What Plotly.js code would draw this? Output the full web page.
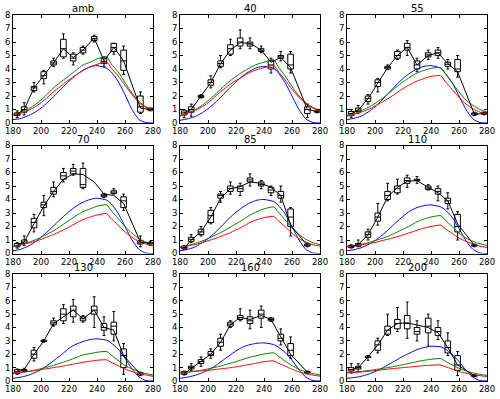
<!DOCTYPE html>
<html>
<head>
<meta charset="utf-8">
<script src="https://cdn.plot.ly/plotly-3.0.1.min.js"></script>
<style>
  body { margin: 0; background: #fff; }
  #chart { width: 500px; height: 399px; }
</style>
</head>
<body>
<div id="chart"></div>
<script>
// panel names
let panels = ['amb', '40', '55', '70', '85', '110', '130', '160', '200'];

// box positions (days) and grid for the model curves
let boxX = [183, 188, 195, 202, 209, 216, 223, 230, 238, 245, 252, 259, 271, 278];
let curveX = [180, 185, 190, 195, 200, 205, 210, 215, 220, 225, 230, 235, 240, 247, 250, 255, 260, 265, 270, 275, 280];

// box stats per panel: lo, q1, med, q3, hi (null = no box) + black line
let medAmb = [0.65, 1.0, 2.6, 3.5, 4.45, 5.5, 4.8, 5.4, 6.25, 4.55, 5.6, 4.6, 1.2, 1.0];
let q1Amb = [0.55, 0.8, 2.4, 3.3, 4.3, 4.9, 4.6, 5.2, 6.1, 4.4, 5.3, 3.9, 0.8, 0.95];
let q3Amb = [0.75, 1.2, 2.7, 3.8, 4.6, 6.2, 5.1, 5.6, 6.4, 4.8, 5.9, 5.4, 2.0, 1.1];
let loAmb = [0.4, 0.6, 2.3, 2.9, 4.2, 4.8, 4.3, 5.1, 6.0, 4.2, 5.1, 3.6, 0.7, 0.9];
let hiAmb = [0.9, 1.5, 3.0, 3.9, 4.8, 6.6, 5.2, 5.7, 6.5, 4.9, 5.9, 5.7, 2.3, 1.1];
let lineAmb = [0.65, 1.0, 2.6, 3.5, 4.45, 5.5, 4.85, 5.4, 6.3, 4.6, 5.6, 4.6, 1.1, 1.0];

let med40 = [0.75, 1.0, 2.0, 3.0, 4.4, 5.5, 6.0, 5.85, 5.4, 4.3, 4.9, 4.3, 1.0, 0.85];
let q140 = [0.6, 0.8, 1.9, 2.8, 4.2, 5.1, 5.7, 5.7, 5.3, 4.0, 4.8, 4.0, 0.7, 0.8];
let q340 = [0.9, 1.2, 2.05, 3.2, 4.6, 5.8, 6.3, 6.0, 5.5, 4.6, 5.0, 5.1, 1.2, 0.9];
let lo40 = [0.4, 0.5, 1.85, 2.6, 4.1, 5.0, 5.5, 5.5, 5.2, 3.7, 4.6, 3.7, 0.4, 0.75];
let hi40 = [1.0, 1.4, 2.1, 3.5, 5.0, 6.2, 6.9, 6.3, 5.7, 4.8, 5.3, 5.3, 1.4, 0.95];
let line40 = [0.75, 1.0, 2.0, 3.0, 4.4, 5.4, 5.95, 5.9, 5.4, 4.5, 4.85, 4.1, 1.0, 0.85];

let med55 = [0.7, 0.95, 1.8, 3.0, 4.1, 5.0, 5.6, 4.3, 5.05, 5.2, 4.35, 4.0, 0.65, 0.7];
let q155 = [0.55, 0.85, 1.6, 2.7, 4.0, 4.8, 5.4, 4.0, 4.9, 5.0, 4.2, 3.8, 0.6, 0.65];
let q355 = [0.85, 1.1, 2.0, 3.2, 4.2, 5.3, 5.9, 4.6, 5.2, 5.4, 4.5, 4.7, 0.75, 0.8];
let lo55 = [0.4, 0.7, 1.4, 2.3, 3.95, 4.7, 5.0, 3.8, 4.7, 4.8, 4.0, 3.4, 0.55, 0.6];
let hi55 = [1.0, 1.3, 2.1, 3.3, 4.3, 5.4, 6.1, 4.8, 5.4, 5.6, 4.7, 5.0, 0.8, 0.8];
let line55 = [0.7, 0.95, 1.8, 3.0, 4.1, 5.0, 5.6, 4.3, 5.0, 5.2, 4.4, 3.8, 0.65, 0.7];

let med70 = [0.6, 0.85, 2.3, 3.6, 4.6, 5.75, 6.1, 5.1, null, 4.3, 4.55, 3.9, 0.8, 0.75];
let q170 = [0.5, 0.75, 1.9, 3.4, 4.4, 5.5, 5.9, 4.9, null, 4.2, 4.45, 3.4, 0.7, 0.7];
let q370 = [0.75, 1.0, 2.6, 3.8, 4.9, 6.0, 6.3, 6.3, null, 4.4, 4.65, 4.2, 0.95, 0.8];
let lo70 = [0.4, 0.6, 1.6, 2.8, 4.2, 5.3, 5.8, 4.8, null, 4.15, 4.4, 3.2, 0.5, 0.6];
let hi70 = [0.8, 1.3, 2.9, 4.3, 5.3, 6.3, 6.6, 6.7, null, 4.45, 4.8, 4.4, 1.3, 0.9];
let line70 = [0.6, 0.85, 2.2, 3.5, 4.6, 5.5, 5.9, 5.85, 5.3, 4.4, 4.3, 3.7, 0.85, 0.75];

let med85 = [0.45, 1.05, 1.6, 2.8, 4.3, 4.8, 4.8, 5.45, 5.1, 4.7, 4.3, 2.7, 0.6, null];
let q185 = [0.35, 0.9, 1.4, 2.3, 4.1, 4.6, 4.6, 5.3, 5.0, 4.5, 4.1, 2.0, 0.55, null];
let q385 = [0.55, 1.2, 1.8, 3.2, 4.4, 5.0, 5.0, 5.6, 5.3, 4.9, 4.6, 3.3, 0.7, null];
let lo85 = [0.3, 0.8, 1.3, 2.2, 3.8, 4.4, 4.3, 5.0, 4.8, 4.3, 3.8, 1.3, 0.5, null];
let hi85 = [0.6, 1.4, 2.0, 3.4, 4.6, 5.3, 5.2, 5.9, 5.4, 5.0, 5.0, 3.4, 0.75, null];
let line85 = [0.4, 1.0, 1.6, 2.7, 4.1, 4.8, 4.95, 5.3, 5.2, 4.9, 4.3, 2.1, 0.6, null];

let med110 = [0.5, 0.65, 1.4, 2.7, 4.3, 4.8, 5.4, 5.45, 4.85, 4.6, 3.9, 2.0, 0.6, null];
let q1110 = [0.45, 0.55, 1.2, 2.4, 4.0, 4.5, 5.2, 5.4, 4.75, 4.4, 3.7, 1.6, 0.55, null];
let q3110 = [0.6, 0.75, 1.6, 3.0, 4.6, 5.0, 5.6, 5.5, 5.0, 4.8, 4.1, 2.9, 0.65, null];
let lo110 = [0.4, 0.5, 1.0, 2.1, 3.9, 4.4, 4.9, 5.2, 4.7, 3.9, 3.3, 1.0, 0.5, null];
let hi110 = [0.65, 1.0, 1.8, 3.7, 5.2, 5.5, 5.8, 5.7, 5.1, 5.0, 4.5, 3.1, 0.7, null];
let line110 = [0.5, 0.65, 1.4, 2.7, 4.2, 4.9, 5.35, 5.4, 4.9, 4.5, 3.9, 2.2, 0.6, null];

let med130 = [0.7, 0.8, 2.0, 3.0, 4.35, 5.0, 5.3, 4.65, 5.3, 4.0, 4.1, 1.9, 0.55, null];
let q1130 = [0.55, 0.75, 1.7, 2.95, 4.2, 4.5, 4.8, 4.5, 5.0, 3.8, 3.5, 1.0, 0.45, null];
let q3130 = [0.85, 0.85, 2.3, 3.05, 4.5, 5.4, 5.6, 4.8, 5.6, 4.3, 4.4, 2.4, 0.6, null];
let lo130 = [0.5, 0.7, 1.5, 2.9, 4.1, 4.3, 4.4, 4.4, 4.0, 3.4, 3.0, 0.5, 0.4, null];
let hi130 = [0.9, 0.95, 2.5, 3.1, 4.7, 5.7, 6.1, 4.9, 6.3, 4.8, 5.2, 2.8, 0.65, null];
let line130 = [0.8, 0.85, 2.0, 3.0, 4.3, 4.8, 5.3, 4.65, 5.3, 4.0, 3.8, 1.9, 0.5, null];

let med160 = [0.6, 1.0, 1.45, 2.0, 2.9, 4.25, 4.75, 4.5, 5.0, 4.6, 3.2, 2.3, 0.65, null];
let q1160 = [0.5, 0.9, 1.3, 1.9, 2.6, 4.1, 4.6, 4.3, 4.7, 4.5, 3.0, 1.9, 0.6, null];
let q3160 = [0.7, 1.1, 1.6, 2.2, 3.2, 4.4, 4.9, 4.8, 5.3, 4.7, 3.5, 2.8, 0.7, null];
let lo160 = [0.45, 0.8, 1.1, 1.7, 2.3, 4.0, 4.5, 3.9, 4.0, 4.45, 2.7, 1.7, 0.55, null];
let hi160 = [0.75, 1.3, 1.8, 2.4, 3.5, 4.5, 5.4, 5.3, 5.6, 4.75, 3.9, 3.3, 0.75, null];
let line160 = [0.55, 0.95, 1.45, 2.0, 2.9, 4.2, 4.75, 4.6, 4.9, 4.6, 3.3, 2.0, 0.65, null];

let med200 = [0.85, 1.0, 1.8, 2.7, 3.8, 4.3, 4.3, 3.7, 4.1, 3.7, 2.5, 1.2, 0.4, null];
let q1200 = [0.75, 0.9, 1.75, 2.3, 3.5, 3.9, 3.9, 3.5, 3.6, 3.4, 2.1, 0.8, 0.35, null];
let q3200 = [1.0, 1.1, 1.85, 3.0, 4.1, 4.6, 4.9, 4.0, 4.7, 4.0, 3.0, 1.9, 0.45, null];
let lo200 = [0.6, 0.7, 1.55, 2.1, 3.4, 3.7, 3.2, 3.0, 2.6, 3.1, 1.9, 0.4, 0.35, null];
let hi200 = [1.3, 1.3, 1.9, 3.2, 5.0, 5.5, 5.9, 4.5, 5.0, 4.5, 3.6, 2.2, 0.45, null];
let line200 = [0.85, 1.0, 1.8, 2.7, 3.8, 4.3, 4.35, 4.2, 4.0, 3.6, 2.5, 1.2, 0.4, null];

// model curves per panel (blue, green, red)
let blueAmb = [0.25, 0.32, 0.5, 0.75, 1.1, 1.55, 2.05, 2.6, 3.1, 3.55, 3.9, 4.15, 4.25, 4.05, 3.8, 3.1, 2.1, 1.0, 0.25, 0.03, 0];
let greenAmb = [0.6, 0.8, 1.0, 1.3, 1.7, 2.2, 2.7, 3.1, 3.5, 3.9, 4.3, 4.5, 4.75, 4.9, 4.4, 3.8, 3.0, 2.2, 1.6, 1.2, 1.0];
let redAmb = [0.55, 0.7, 0.9, 1.15, 1.5, 1.95, 2.4, 2.8, 3.2, 3.55, 3.9, 4.15, 4.35, 4.5, 4.1, 3.5, 2.8, 2.1, 1.5, 1.15, 0.9];

let blue40 = [0.2, 0.3, 0.45, 0.7, 1.05, 1.5, 2.0, 2.55, 3.05, 3.5, 3.85, 4.1, 4.2, 4.05, 3.75, 3.0, 2.0, 1.0, 0.3, 0.03, 0];
let green40 = [0.55, 0.75, 0.95, 1.25, 1.65, 2.1, 2.6, 3.05, 3.45, 3.8, 4.1, 4.35, 4.5, 4.7, 4.2, 3.5, 2.7, 2.0, 1.5, 1.15, 0.95];
let red40 = [0.5, 0.7, 0.9, 1.15, 1.5, 1.95, 2.4, 2.8, 3.15, 3.45, 3.75, 3.95, 4.1, 4.25, 3.85, 3.2, 2.5, 1.9, 1.4, 1.1, 0.85];

let blue55 = [0.25, 0.35, 0.5, 0.8, 1.2, 1.7, 2.25, 2.8, 3.3, 3.7, 4.0, 4.2, 4.25, 4.05, 3.7, 3.0, 2.0, 1.0, 0.3, 0.03, 0];
let green55 = [0.55, 0.7, 0.9, 1.15, 1.45, 1.8, 2.2, 2.65, 3.05, 3.4, 3.7, 3.9, 4.05, 4.1, 3.7, 3.0, 2.3, 1.7, 1.3, 1.0, 0.8];
let red55 = [0.5, 0.65, 0.8, 1.0, 1.25, 1.55, 1.85, 2.2, 2.55, 2.85, 3.1, 3.3, 3.45, 3.5, 3.1, 2.5, 1.9, 1.4, 1.05, 0.8, 0.65];

let blue70 = [0.2, 0.3, 0.5, 0.8, 1.2, 1.65, 2.15, 2.65, 3.1, 3.5, 3.8, 4.0, 4.1, 3.95, 3.7, 3.0, 2.0, 1.0, 0.3, 0.03, 0];
let green70 = [0.5, 0.62, 0.78, 0.98, 1.2, 1.45, 1.75, 2.1, 2.45, 2.8, 3.1, 3.3, 3.5, 3.6, 3.2, 2.6, 2.0, 1.5, 1.1, 0.85, 0.7];
let red70 = [0.55, 0.65, 0.75, 0.88, 1.05, 1.25, 1.45, 1.7, 1.95, 2.25, 2.5, 2.7, 2.85, 2.95, 2.6, 2.1, 1.6, 1.2, 0.9, 0.7, 0.55];

let blue85 = [0.2, 0.3, 0.45, 0.75, 1.1, 1.55, 2.05, 2.6, 3.05, 3.45, 3.75, 3.95, 4.0, 3.85, 3.6, 2.95, 2.0, 1.0, 0.3, 0.03, 0];
let green85 = [0.45, 0.58, 0.72, 0.9, 1.1, 1.35, 1.6, 1.9, 2.2, 2.5, 2.85, 3.1, 3.3, 3.45, 3.1, 2.5, 1.9, 1.4, 1.05, 0.8, 0.65];
let red85 = [0.45, 0.55, 0.65, 0.78, 0.95, 1.1, 1.3, 1.5, 1.75, 2.0, 2.3, 2.5, 2.65, 2.75, 2.45, 2.0, 1.5, 1.1, 0.85, 0.65, 0.55];

let blue110 = [0.2, 0.28, 0.42, 0.65, 0.95, 1.35, 1.8, 2.3, 2.75, 3.15, 3.4, 3.55, 3.6, 3.45, 3.25, 2.7, 1.85, 0.95, 0.3, 0.03, 0];
let green110 = [0.5, 0.58, 0.68, 0.8, 0.95, 1.12, 1.3, 1.55, 1.8, 2.05, 2.35, 2.55, 2.7, 2.8, 2.5, 2.0, 1.5, 1.15, 0.9, 0.72, 0.6];
let red110 = [0.5, 0.56, 0.63, 0.72, 0.82, 0.95, 1.08, 1.22, 1.38, 1.55, 1.72, 1.88, 2.0, 2.1, 1.85, 1.5, 1.15, 0.9, 0.7, 0.55, 0.45];

let blue130 = [0.2, 0.28, 0.4, 0.6, 0.85, 1.2, 1.6, 2.0, 2.45, 2.75, 2.95, 3.1, 3.15, 3.05, 2.85, 2.4, 1.7, 0.9, 0.3, 0.03, 0];
let green130 = [0.55, 0.62, 0.7, 0.8, 0.92, 1.05, 1.2, 1.38, 1.55, 1.75, 1.95, 2.05, 2.15, 2.2, 1.95, 1.55, 1.15, 0.9, 0.7, 0.55, 0.45];
let red130 = [0.6, 0.65, 0.7, 0.77, 0.85, 0.93, 1.02, 1.1, 1.2, 1.3, 1.4, 1.48, 1.55, 1.58, 1.4, 1.15, 0.9, 0.7, 0.55, 0.45, 0.35];

let blue160 = [0.2, 0.28, 0.4, 0.58, 0.82, 1.12, 1.5, 1.88, 2.25, 2.55, 2.72, 2.82, 2.85, 2.72, 2.55, 2.15, 1.55, 0.85, 0.28, 0.03, 0];
let green160 = [0.6, 0.65, 0.72, 0.8, 0.9, 1.02, 1.15, 1.3, 1.45, 1.62, 1.78, 1.9, 2.02, 2.1, 1.88, 1.5, 1.15, 0.88, 0.68, 0.55, 0.45];
let red160 = [0.65, 0.68, 0.72, 0.76, 0.8, 0.86, 0.92, 0.98, 1.06, 1.15, 1.25, 1.35, 1.45, 1.5, 1.35, 1.12, 0.88, 0.68, 0.54, 0.44, 0.36];

let blue200 = [0.2, 0.26, 0.35, 0.5, 0.7, 0.95, 1.25, 1.55, 1.85, 2.1, 2.35, 2.5, 2.6, 2.55, 2.4, 2.0, 1.45, 0.8, 0.28, 0.03, 0];
let green200 = [0.65, 0.68, 0.72, 0.78, 0.85, 0.93, 1.02, 1.12, 1.22, 1.33, 1.45, 1.55, 1.62, 1.68, 1.5, 1.2, 0.95, 0.75, 0.6, 0.5, 0.42];
let red200 = [0.6, 0.63, 0.67, 0.72, 0.78, 0.84, 0.9, 0.95, 1.0, 1.05, 1.1, 1.15, 1.18, 1.2, 1.08, 0.9, 0.72, 0.58, 0.48, 0.4, 0.34];

let boxes = [
    [loAmb, q1Amb, medAmb, q3Amb, hiAmb, lineAmb],
    [lo40, q140, med40, q340, hi40, line40],
    [lo55, q155, med55, q355, hi55, line55],
    [lo70, q170, med70, q370, hi70, line70],
    [lo85, q185, med85, q385, hi85, line85],
    [lo110, q1110, med110, q3110, hi110, line110],
    [lo130, q1130, med130, q3130, hi130, line130],
    [lo160, q1160, med160, q3160, hi160, line160],
    [lo200, q1200, med200, q3200, hi200, line200]
];
let curves = [
    [blueAmb, greenAmb, redAmb],
    [blue40, green40, red40],
    [blue55, green55, red55],
    [blue70, green70, red70],
    [blue85, green85, red85],
    [blue110, green110, red110],
    [blue130, green130, red130],
    [blue160, green160, red160],
    [blue200, green200, red200]
];

// subplot placement in pixels (left, right) and (top, bottom)
let W = 500, H = 399;
let cols = [[13, 153], [180, 320], [347, 487]];
let rows = [[15, 123], [145.5, 253.5], [274, 381]];

let traces = [];
let layout = {
    width: W,
    height: H,
    margin: {l: 0, r: 0, t: 0, b: 0},
    paper_bgcolor: '#fff',
    plot_bgcolor: '#fff',
    showlegend: false,
    font: {family: 'DejaVu Sans', size: 8.5, color: '#000'},
    annotations: []
};

for (let p = 0; p < 9; p++) {
    let n = p == 0 ? '' : String(p + 1);
    let xa = 'x' + n, ya = 'y' + n;
    let b = boxes[p];
    let c = curves[p];

    // keep only positions that have a box
    let bx = [], lo = [], q1 = [], med = [], q3 = [], hi = [];
    for (let i in boxX) {
        if (b[2][i] == null) continue;
        bx.push(boxX[i]);
        lo.push(b[0][i]);
        q1.push(b[1][i]);
        med.push(b[2][i]);
        q3.push(b[3][i]);
        hi.push(b[4][i]);
    }
    traces.push({
        type: 'box',
        x: bx,
        lowerfence: lo,
        q1: q1,
        median: med,
        q3: q3,
        upperfence: hi,
        width: 4,
        whiskerwidth: 0.5,
        boxpoints: false,
        fillcolor: '#fff',
        line: {color: '#000', width: 1},
        xaxis: xa,
        yaxis: ya,
        hoverinfo: 'skip'
    });

    let colors = ['#0000ff', '#008000', '#ff0000'];
    for (let k = 0; k < 3; k++) {
        traces.push({
            type: 'scatter',
            mode: 'lines',
            x: curveX,
            y: c[k],
            line: {color: colors[k], width: 1, shape: 'spline', smoothing: 0.6},
            xaxis: xa,
            yaxis: ya
        });
    }
    traces.push({
        type: 'scatter',
        mode: 'lines',
        x: boxX,
        y: b[5],
        connectgaps: false,
        line: {color: '#000', width: 1},
        xaxis: xa,
        yaxis: ya
    });

    let col = cols[p % 3], row = rows[Math.floor(p / 3)];
    let axisStyle = {
        showline: true,
        linecolor: '#000',
        linewidth: 1,
        mirror: 'allticks',
        ticks: 'inside',
        ticklen: 3,
        tickcolor: '#000',
        showgrid: false,
        zeroline: false,
        fixedrange: true
    };
    layout['xaxis' + n] = Object.assign({}, axisStyle, {
        domain: [col[0] / W, col[1] / W],
        range: [180, 280],
        dtick: 20,
        tick0: 180,
        anchor: ya
    });
    layout['yaxis' + n] = Object.assign({}, axisStyle, {
        domain: [1 - row[1] / H, 1 - row[0] / H],
        range: [0, 8],
        dtick: 1,
        anchor: xa
    });
    layout.annotations.push({
        text: panels[p],
        xref: 'paper',
        yref: 'paper',
        x: (col[0] + col[1]) / 2 / W,
        y: 1 - row[0] / H,
        xanchor: 'center',
        yanchor: 'bottom',
        yshift: -1,
        showarrow: false,
        font: {size: 10, color: '#000'}
    });
}

Plotly.newPlot('chart', traces, layout, {displayModeBar: false, staticPlot: true});
</script>
</body>
</html>
